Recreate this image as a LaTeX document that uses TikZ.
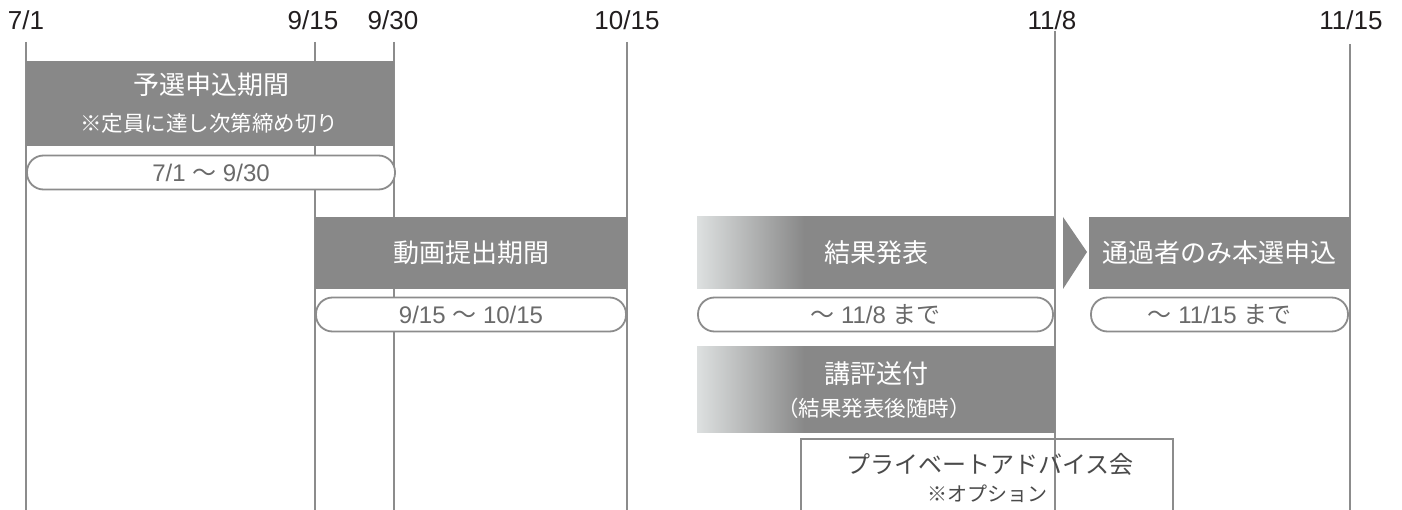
\documentclass[tikz,border=0pt]{standalone}
\usepackage{fontspec}
\setmainfont{Liberation Sans}
\newfontfamily\jp{Noto Sans CJK JP}
\definecolor{linegray}{HTML}{8C8C8C}
\definecolor{boxgray}{HTML}{888888}
\definecolor{lightg}{HTML}{DDE0E0}
\definecolor{pilltext}{HTML}{6A6A6A}
\definecolor{datetext}{HTML}{221E1F}
\definecolor{opttext}{HTML}{4A4A4A}
\pgfdeclarehorizontalshading{fadebox}{100bp}{color(0bp)=(lightg); color(25bp)=(lightg); color(40bp)=(boxgray); color(100bp)=(boxgray)}
\tikzset{
  vline/.style={draw=linegray, line width=2.1pt},
  datelbl/.style={font=\fontsize{26}{30}\selectfont, text=datetext, inner sep=0pt, anchor=base},
  bar/.style={fill=boxgray, draw=none, inner sep=0pt},
  fadebar/.style={shading=fadebox, draw=none, inner sep=0pt},
  pill/.style={draw=linegray, line width=1.8pt, fill=white, rounded corners=16.5pt, minimum height=34pt, inner sep=0pt, text=pilltext, font=\fontsize{24}{27}\selectfont},
  btxt/.style={text=white, font=\jp\fontsize{26}{30}\selectfont, inner sep=0pt},
  stxt/.style={text=white, font=\jp\fontsize{21.5}{25}\selectfont, inner sep=0pt},
  optbox/.style={draw=linegray, line width=2pt, fill=none, inner sep=0pt},
  otxt/.style={text=opttext, font=\jp\fontsize{24}{28}\selectfont, inner sep=0pt},
  osub/.style={text=opttext, font=\jp\fontsize{20}{24}\selectfont, inner sep=0pt},
}
\begin{document}
\begin{tikzpicture}[x=1pt,y=-1pt]
\clip (0,0) rectangle (1402,510);
\fill[white] (0,0) rectangle (1402,510);

% date labels
\node[datelbl] (d1) at (26,30) {7/1};
\node[datelbl] (d2) at (313,30) {9/15};
\node[datelbl] (d3) at (393,30) {9/30};
\node[datelbl] (d4) at (627,30) {10/15};
\node[datelbl] (d5) at (1052,30) {11/8};
\node[datelbl] (d6) at (1351,30) {11/15};

% line ends
\coordinate (t1) at (26,42);   \coordinate (b1) at (26,512);
\coordinate (t2) at (315,42);  \coordinate (b2) at (315,512);
\coordinate (t3) at (394,42);  \coordinate (b3) at (394,512);
\coordinate (t4) at (627,42);  \coordinate (b4) at (627,512);
\coordinate (t5) at (1055,31); \coordinate (b5) at (1055,512);
\coordinate (t6) at (1350,44); \coordinate (b6) at (1350,512);
\draw[vline] (t1) -- (b1);
\draw[vline] (t2) -- (b2);
\draw[vline] (t3) -- (b3);
\draw[vline] (t4) -- (b4);
\draw[vline] (t5) -- (b5);
\draw[vline] (t6) -- (b6);

% 予選申込期間
\node[bar, minimum width=368pt, minimum height=85pt] (box1) at (210,103.5) {};
\node[btxt] (box1t) at (211,85) {予選申込期間};
\node[stxt] (box1s) at (209,123) {※定員に達し次第締め切り};
\node[pill, minimum width=368pt] (pill1) at (211,172.5) {7/1 {\jp 〜} 9/30};

% 動画提出期間
\node[bar, minimum width=312pt, minimum height=72pt] (box2) at (471,253) {};
\node[btxt] (box2t) at (471,253) {動画提出期間};
\node[pill, minimum width=310pt] (pill2) at (471,314.5) {9/15 {\jp 〜} 10/15};

% 結果発表
\node[fadebar, minimum width=358pt, minimum height=72pt] (box3) at (876,253) {};
\node[btxt] (box3t) at (876,253) {結果発表};
\node[pill, minimum width=355pt] (pill3) at (875.5,314.5) {{\jp 〜} 11/8 {\jp まで}};

% arrow
\coordinate (a1) at (1063,217);
\coordinate (a2) at (1087,252);
\coordinate (a3) at (1063,289);
\fill[boxgray] (a1) -- (a2) -- (a3) -- cycle;

% 通過者のみ本選申込
\node[bar, minimum width=261pt, minimum height=72pt] (box4) at (1219.5,253) {};
\node[btxt] (box4t) at (1219.5,253) {通過者のみ本選申込};
\node[pill, minimum width=257pt] (pill4) at (1219.5,314.5) {{\jp 〜} 11/15 {\jp まで}};

% 講評送付
\node[fadebar, minimum width=358pt, minimum height=85pt] (box5) at (876,389.5) {};
\node[btxt] (box5t) at (876,374) {講評送付};
\node[stxt] (box5s) at (874,408) {（結果発表後随時）};

% プライベートアドバイス会
\node[optbox, minimum width=372pt, minimum height=100pt] (box6) at (987,489) {};
\node[otxt] (box6t) at (990,464) {プライベートアドバイス会};
\node[osub] (box6s) at (987,494) {※オプション};
\end{tikzpicture}
\end{document}
